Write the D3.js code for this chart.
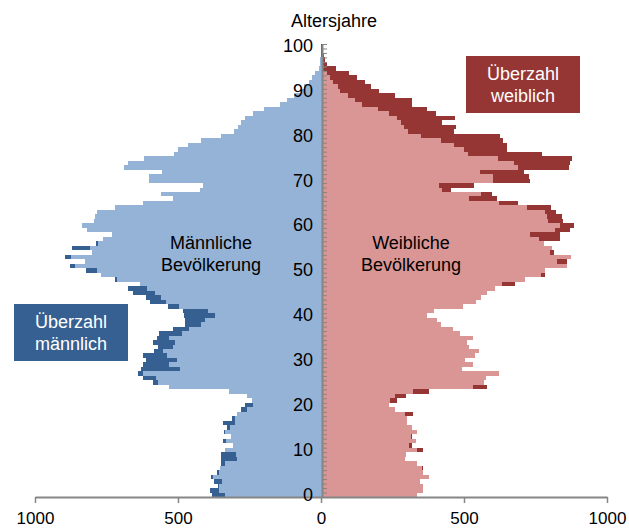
<!DOCTYPE html>
<head>
  <meta charset="utf-8">
  <style>
  body {
    margin: 0;
    background: #fff;
  }

  .chart {
    display: block;
    font-family: "Liberation Sans", Arial, sans-serif;
  }

  .bars rect {
    shape-rendering: crispEdges;
  }

  .axis path,
  .axis line {
    stroke: #868686;
  }

  .axis text {
    fill: #000;
  }
</style>
</head>
<body>
<svg class="chart" width="629" height="529"></svg>

<script src="https://cdn.jsdelivr.net/npm/d3@7"></script>
<script>
// Altersjahre 0..100
var ages = d3.range(0, 101);

var male = [
  380, 388, 359, 373, 386, 362, 353, 350, 350, 348,
  335, 306, 342, 313, 338, 328, 342, 310, 292, 281,
  264, 241, 259, 322, 532, 589, 622, 639, 631, 622,
  612, 622, 584, 569, 589, 575, 566, 517, 476, 476,
  480, 482, 534, 599, 612, 657, 674, 634, 721, 768,
  820, 876, 826, 896, 800, 870, 785, 763, 730, 817,
  837, 795, 790, 784, 722, 624, 516, 560, 422, 414,
  603, 603, 556, 690, 675, 619, 515, 500, 465, 420,
  350, 304, 290, 278, 264, 237, 199, 143, 118, 94,
  66, 58, 42, 30, 22, 8, 3, 2, 1, 1, 0
];

var female = [
  337, 356, 355, 346, 376, 358, 356, 337, 295, 296,
  356, 317, 333, 317, 335, 317, 300, 300, 321, 258,
  237, 267, 298, 379, 580, 571, 578, 624, 493, 533,
  504, 539, 551, 519, 512, 533, 486, 461, 419, 405,
  372, 395, 498, 542, 560, 580, 610, 679, 715, 784,
  783, 861, 860, 873, 816, 806, 780, 835, 837, 872,
  883, 845, 842, 823, 804, 688, 615, 597, 454, 535,
  731, 726, 710, 866, 872, 877, 772, 652, 652, 636,
  626, 465, 472, 422, 469, 402, 370, 317, 317, 259,
  203, 175, 154, 125, 99, 52, 22, 15, 10, 6, 3
];

var ageTicks = [0, 10, 20, 30, 40, 50, 60, 70, 80, 90, 100];
var xTicks = [-1000, -500, 0, 500, 1000];

var colors = {
  maleLight: "#95b3d7",
  maleDark: "#366092",
  femaleLight: "#da9694",
  femaleDark: "#963634"
};

var svg = d3.select("svg");

// signed scale: men left (negative), women right
var x = d3.scaleLinear().domain([-1000, 1000]).range([35, 607]);

var y = d3.scaleBand().domain(ages).range([497, 44]).padding(0);

var yLin = d3.scaleLinear().domain([0, 101]).range([497, 44]);

var data = ages.map(function(a, i) {
  return { age: a, m: male[i], f: female[i] };
});

var bars = svg.append("g").attr("class", "bars");

// common part (min of both) in light colour
bars.selectAll(".m-light")
  .data(data)
  .enter()
  .append("rect")
  .attr("x", function(d) { return x(-Math.min(d.m, d.f)); })
  .attr("y", function(d) { return y(d.age); })
  .attr("width", function(d) { return x(0) - x(-Math.min(d.m, d.f)); })
  .attr("height", y.bandwidth())
  .attr("fill", colors.maleLight);

bars.selectAll(".f-light")
  .data(data)
  .enter()
  .append("rect")
  .attr("x", x(0))
  .attr("y", function(d) { return y(d.age); })
  .attr("width", function(d) { return x(Math.min(d.m, d.f)) - x(0); })
  .attr("height", y.bandwidth())
  .attr("fill", colors.femaleLight);

// surplus in dark colour
bars.selectAll(".m-dark")
  .data(data.filter(function(d) { return d.m > d.f; }))
  .enter()
  .append("rect")
  .attr("x", function(d) { return x(-d.m); })
  .attr("y", function(d) { return y(d.age); })
  .attr("width", function(d) { return x(-d.f) - x(-d.m); })
  .attr("height", y.bandwidth())
  .attr("fill", colors.maleDark);

bars.selectAll(".f-dark")
  .data(data.filter(function(d) { return d.f > d.m; }))
  .enter()
  .append("rect")
  .attr("x", function(d) { return x(d.m); })
  .attr("y", function(d) { return y(d.age); })
  .attr("width", function(d) { return x(d.f) - x(d.m); })
  .attr("height", y.bandwidth())
  .attr("fill", colors.femaleDark);

// x axis
var xAxis = svg.append("g")
  .attr("class", "axis axis--x")
  .attr("transform", "translate(0,497)")
  .call(d3.axisBottom(x)
    .tickValues(xTicks)
    .tickFormat(function(d) { return Math.abs(d); })
    .tickSize(6)
    .tickSizeOuter(0)
    .tickPadding(9));
xAxis.select(".domain").attr("stroke-width", 2);
xAxis.selectAll(".tick line").attr("stroke-width", 1.5);
xAxis.selectAll("text").style("font-size", "17px");

// vertical axis with small ticks for every year
var yAxis = svg.append("g")
  .attr("class", "axis axis--y")
  .attr("transform", "translate(322,0)")
  .call(d3.axisRight(yLin)
    .tickValues(d3.range(0, 102))
    .tickSize(5)
    .tickSizeOuter(0)
    .tickFormat(""));
yAxis.select(".domain").attr("stroke-width", 2);

// age labels
var yLabels = svg.append("g")
  .attr("class", "axis axis--labels")
  .attr("transform", "translate(321,0)")
  .call(d3.axisLeft(y)
    .tickValues(ageTicks)
    .tickSize(0)
    .tickPadding(8));
yLabels.select(".domain").remove();
yLabels.selectAll("text").style("font-size", "18px");

svg.append("text")
  .attr("x", 334)
  .attr("y", 27)
  .attr("text-anchor", "middle")
  .style("font-size", "18px")
  .text("Altersjahre");

// series names
function twoLines(cx, y0, l1, l2, fill) {
  var t = svg.append("text")
    .attr("text-anchor", "middle")
    .style("font-size", "18px")
    .attr("fill", fill);
  t.append("tspan").attr("x", cx).attr("y", y0).text(l1);
  t.append("tspan").attr("x", cx).attr("y", y0 + 21.5).text(l2);
  return t;
}

twoLines(211, 249, "Männliche", "Bevölkerung", "#000");
twoLines(411, 249, "Weibliche", "Bevölkerung", "#000");

// legend boxes
svg.append("rect")
  .attr("x", 466).attr("y", 56).attr("width", 114).attr("height", 57)
  .attr("fill", colors.femaleDark);
twoLines(523, 80, "Überzahl", "weiblich", "#fff");

svg.append("rect")
  .attr("x", 14).attr("y", 304).attr("width", 114).attr("height", 57)
  .attr("fill", colors.maleDark);
twoLines(71, 328, "Überzahl", "männlich", "#fff");
</script>
</body>
